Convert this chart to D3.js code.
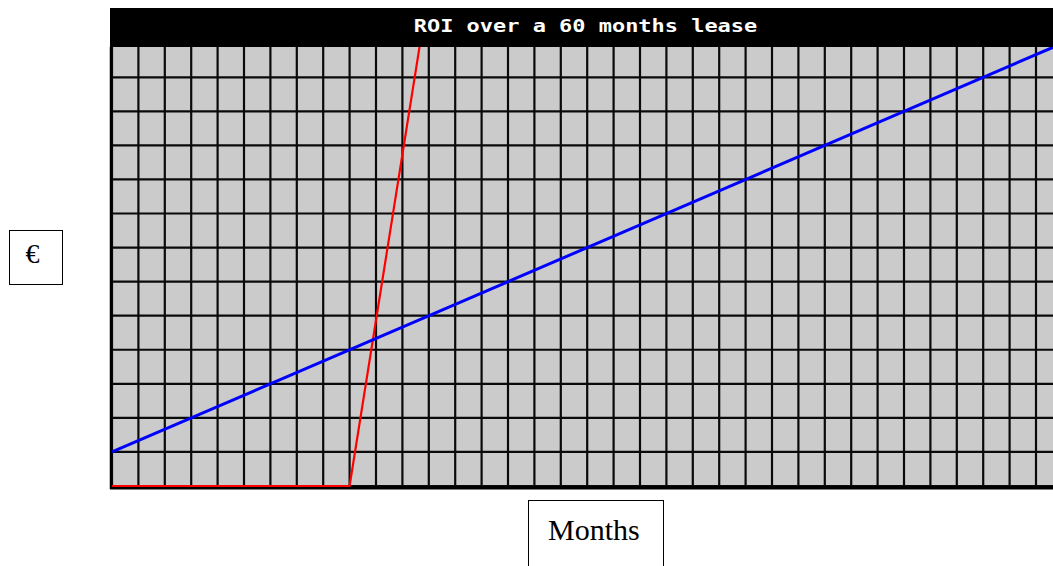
<!DOCTYPE html>
<html>
<head>
<meta charset="utf-8">
<script src="https://cdn.jsdelivr.net/npm/d3@7"></script>
<style>
  body { margin: 0; background: #fff; }
  svg { display: block; }
</style>
</head>
<body>
<svg id="chart"></svg>
<script>
// Chart data (grid units: one column = one month, one row = one € step)
const title = "ROI over a 60 months lease";
const xLabel = "Months";
const yLabel = "€";
const monthDomain = [0, 36];
const euroDomain = [0, 13];

// blue line
const blueMonths = [0, 36];
const blueValues = [1, 13];
// red line
const redMonths = [0, 9, 12];
const redValues = [0, 0, 14.6];

// Sizes
const width = 1053;
const height = 566;
const plotLeft = 112;
const colWidth = 26.4;
const rowHeight = 34.06;
const plotBottom = 486;
const titleTop = 8;
const titleBottom = 47;

const svg = d3.select("#chart")
    .attr("width", width)
    .attr("height", height)
    .attr("viewBox", [0, 0, width, height]);

// Scales
const x = d3.scaleLinear()
    .domain(monthDomain)
    .range([plotLeft, plotLeft + (monthDomain[1] - monthDomain[0]) * colWidth]);

const y = d3.scaleLinear()
    .domain(euroDomain)
    .range([plotBottom, plotBottom - (euroDomain[1] - euroDomain[0]) * rowHeight]);

// Plot background
svg.append("rect")
    .attr("x", x(0) - 2)
    .attr("y", titleBottom)
    .attr("width", x(monthDomain[1]) - x(0) + 2)
    .attr("height", plotBottom - titleBottom)
    .attr("fill", "#cbcbcb");

svg.append("clipPath")
    .attr("id", "plot-clip")
  .append("rect")
    .attr("x", x(0))
    .attr("y", titleBottom)
    .attr("width", x(monthDomain[1]) - x(0))
    .attr("height", plotBottom - titleBottom + 2);

// Grid
const grid = svg.append("g")
    .attr("stroke", "#0a0a0a")
    .attr("stroke-width", 2.2);

grid.selectAll(".vline")
    .data(x.ticks(36))
    .join("line")
    .attr("class", "vline")
    .attr("x1", d => x(d))
    .attr("x2", d => x(d))
    .attr("y1", titleBottom)
    .attr("y2", plotBottom);

grid.selectAll(".hline")
    .data(y.ticks(13).filter(d => y(d) > titleBottom))
    .join("line")
    .attr("class", "hline")
    .attr("x1", x(0))
    .attr("x2", x(monthDomain[1]))
    .attr("y1", d => y(d))
    .attr("y2", d => y(d));

// Left and bottom border
svg.append("line")
    .attr("x1", x(0) - 1).attr("x2", x(0) - 1)
    .attr("y1", titleBottom).attr("y2", plotBottom + 3)
    .attr("stroke", "#000").attr("stroke-width", 2.5);

svg.append("line")
    .attr("x1", x(0) - 2).attr("x2", width)
    .attr("y1", y(0) + 1.7).attr("y2", y(0) + 1.7)
    .attr("stroke", "#000").attr("stroke-width", 3.5);

// Lines
const line = d3.line()
    .x(d => x(d[0]))
    .y(d => y(d[1]));

const lines = svg.append("g").attr("clip-path", "url(#plot-clip)");

lines.append("path")
    .datum(d3.zip(redMonths, redValues))
    .attr("fill", "none")
    .attr("stroke", "#ff0000")
    .attr("stroke-width", 2.2)
    .attr("d", line);

lines.append("path")
    .datum(d3.zip(blueMonths, blueValues))
    .attr("fill", "none")
    .attr("stroke", "#0000ff")
    .attr("stroke-width", 3)
    .attr("d", line);

// Title bar
svg.append("rect")
    .attr("x", x(0) - 2)
    .attr("y", titleTop)
    .attr("width", width)
    .attr("height", titleBottom - titleTop)
    .attr("fill", "#000");

svg.append("text")
    .attr("transform", "translate(585.5,32) scale(1.22,1)")
    .attr("text-anchor", "middle")
    .attr("fill", "#fff")
    .attr("font-family", "DejaVu Sans Mono, monospace")
    .attr("font-weight", "bold")
    .attr("font-size", 18)
    .text(title);

// Axis label boxes
const yBox = svg.append("g");
yBox.append("rect")
    .attr("x", 9.5).attr("y", 230.5)
    .attr("width", 53).attr("height", 54)
    .attr("fill", "#fff").attr("stroke", "#000").attr("stroke-width", 1);
yBox.append("text")
    .attr("x", 32.5)
    .attr("y", 263)
    .attr("text-anchor", "middle")
    .attr("font-family", "Liberation Serif, Times New Roman, serif")
    .attr("font-size", 28)
    .text(yLabel);

const xBox = svg.append("g");
xBox.append("rect")
    .attr("x", 528.5).attr("y", 500.5)
    .attr("width", 135).attr("height", 80)
    .attr("fill", "#fff").attr("stroke", "#000").attr("stroke-width", 1);
xBox.append("text")
    .attr("x", 548)
    .attr("y", 540)
    .attr("font-family", "Liberation Serif, Times New Roman, serif")
    .attr("font-size", 30)
    .text(xLabel);
</script>
</body>
</html>
